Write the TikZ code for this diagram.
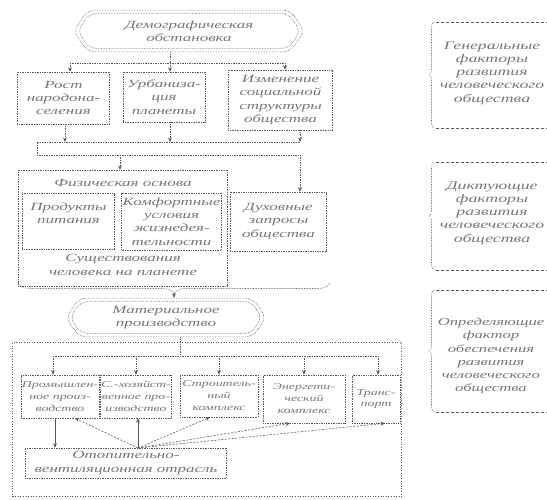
\documentclass[tikz,border=0pt]{standalone}
\usepackage{fontspec}
\newfontfamily\lab{Liberation Serif}[FakeStretch=1.55]
\usetikzlibrary{arrows.meta,shapes.symbols,decorations.pathreplacing,calc}
\definecolor{txtgray}{RGB}{118,118,118}
\definecolor{lngray}{RGB}{90,90,90}
\tikzset{
  txt/.style={text=txtgray,align=center,font=\lab\itshape\fontsize{11}{13.5}\selectfont},
  small/.style={text=txtgray,align=center,font=\lab\itshape\fontsize{9}{12}\selectfont},
  side/.style={text=txtgray,align=center,font=\lab\itshape\fontsize{11.5}{13.3}\selectfont},
  ln/.style={draw=lngray,line width=0.7pt,densely dotted},
  arr/.style={ln,-{Stealth[length=4.5pt,width=4pt]}},
  darr/.style={draw=lngray,line width=0.6pt,dash pattern=on 2pt off 1.5pt,-{Stealth[length=4.5pt,width=4pt]}},
  box/.style={ln,txt,inner sep=1pt},
  sbox/.style={ln,small,inner sep=1pt},
  hexa/.style={signal,signal to=east and west,signal pointer angle=110,rounded corners=7pt,
    draw=lngray,line width=0.6pt,densely dotted,inner sep=0pt},
  bra/.style={draw=lngray,line width=0.6pt,densely dotted,decorate,decoration={brace,amplitude=#1}},
  sidebar/.style={draw=lngray,line width=0.6pt,dash pattern=on 3pt off 2pt}
}
\begin{document}
\begin{tikzpicture}[x=1bp,y=-1bp]
\useasboundingbox (0,0) rectangle (547,500);

% --- demographic situation ---
\node[hexa,minimum width=232,minimum height=42] (demo) at (189,31) {};
\node[hexa,minimum width=224,minimum height=35,txt] (demoin) at (demo.center) {Демографическая\\обстановка};

\node[box,minimum width=93,minimum height=52] (rost) at (63.5,98) {Рост\\народона-\\селения};
\node[box,minimum width=82,minimum height=50] (urb) at (164,97) {Урбаниза-\\ция\\планеты};
\node[box,minimum width=105,minimum height=60] (izm) at (280.5,100) {Изменение\\социальной\\структуры\\общества};

\coordinate (bus1L) at (70,63);
\coordinate (bus1M) at (170,63);
\coordinate (bus1R) at (285,63);
\draw[ln] (demo.south -| bus1M) -- (bus1M);
\draw[ln] (bus1L) -- (bus1R);
\draw[arr] (bus1L) -- (bus1L |- rost.north);
\draw[arr] (bus1M) -- (bus1M |- urb.north);
\draw[arr] (bus1R) -- (bus1R |- izm.north);

% --- collecting bus ---
\coordinate (bus2a) at (65,142);
\coordinate (bus2b) at (170,142);
\coordinate (bus2L) at (37,142);
\coordinate (bus2R) at (300,142);
\coordinate (bus3L) at (37,155);
\coordinate (bus3M) at (120,155);
\coordinate (bus3R) at (300,155);
\draw[arr] (rost.south -| bus2a) -- (bus2a);
\draw[arr] (urb.south -| bus2b) -- (bus2b);
\draw[arr] (izm.south -| bus2R) -- (bus2R);
\draw[ln] (bus2R) -- (bus2L) -- (bus3L) -- (bus3R);

% --- physical basis ---
\node[ln,minimum width=210,minimum height=117,inner sep=0pt] (fiz) at (123,228.5) {};
\node[txt] (fizT) at (123,183) {Физическая основа};
\node[txt] (fizB) at (123,265) {Существования\\человека на планете};
\node[box,minimum width=93,minimum height=56,text depth=16pt] (prod) at (68.5,221) {Продукты\\питания};
\node[box,minimum width=97,minimum height=57] (comf) at (171.5,221.5) {Комфортные\\условия\\жизнедея-\\тельности};
\node[box,minimum width=97,minimum height=59] (duh) at (278.5,221.5) {Духовные\\запросы\\общества};
\draw[arr] (bus3M) -- (bus3M |- fiz.north);
\draw[arr] (bus3R) -- (bus3R |- duh.north);

% --- brace over the basis and the needs ---
\draw[bra=11pt] (330,283) -- (18,283);
\coordinate (tip) at (174,293);

% --- material production ---
\node[hexa,minimum width=201,minimum height=39] (mat) at (166,317.5) {};
\node[hexa,minimum width=193,minimum height=32,txt] (matin) at (mat.center) {Материальное\\производство};
\draw[arr] (tip) -- (tip |- mat.north);

% --- production branches ---
\node[draw=lngray,line width=0.6pt,dotted,minimum width=390,minimum height=155,inner sep=0pt] (zone) at (207,419.5) {};
\node[sbox,minimum width=76,minimum height=43] (prom) at (60,396.5) {Промышлен-\\ное произ-\\водство};
\node[sbox,minimum width=68,minimum height=43] (agri) at (136,396.5) {С.-хозяйст-\\венное про-\\изводство};
\node[sbox,minimum width=78,minimum height=42] (build) at (219,396) {Строитель-\\ный\\комплекс};
\node[sbox,minimum width=82,minimum height=48] (energ) at (304,399) {Энергети-\\ческий\\комплекс};
\node[sbox,minimum width=48,minimum height=48] (trans) at (376,399) {Транс-\\порт};
\node[box,minimum width=202,minimum height=30] (otop) at (126,463) {Отопительно-\\вентиляционная отрасль};

\coordinate (bus4M) at (180,356);
\coordinate (bus4L) at (53,356);
\coordinate (bus4R) at (378,356);
\draw[ln] (mat.south -| bus4M) -- (bus4M);
\draw[ln] (bus4L) -- (bus4R);
\draw[arr] (bus4L) -- (bus4L |- prom.north);
\draw[arr] (bus4M -| agri) -- (agri.north);
\draw[arr] (bus4M -| build) -- (build.north);
\draw[arr] (bus4M -| energ) -- (energ.north);
\draw[arr] (bus4R) -- (bus4R |- trans.north);

\coordinate (hub) at (138,448);
\draw[arr,solid] ($(prom.south)+(-5,0)$) -- ($(otop.north)+(-71,0)$);
\draw[arr,solid] (hub) -- (hub |- agri.south);
\draw[darr] (hub) -- ($(prom.south)+(15,0)$);
\draw[darr] (hub) -- ($(build.south)+(-9,0)$);
\draw[darr] (hub) -- ($(energ.south)+(-14,0)$);
\draw[darr] (hub) -- ($(trans.south)+(9,0)$);

% --- factor captions ---
\node[side] (gen) at (492,73) {Генеральные\\факторы\\развития\\человеческого\\общества};
\node[side] (dikt) at (492,213) {Диктующие\\факторы\\развития\\человеческого\\общества};
\node[side,font=\lab\itshape\fontsize{10.8}{13.3}\selectfont] (opr) at (491,356) {Определяющие\\фактор\\обеспечения\\развития\\человеческого\\общества};

\draw[bra=5pt] (434,128) -- (434,22);
\draw[sidebar] (436,22) -- (547,22);
\draw[sidebar] (436,128) -- (547,128);
\draw[bra=5pt] (434,270) -- (434,162);
\draw[sidebar] (436,162) -- (547,162);
\draw[sidebar] (436,270) -- (547,270);
\draw[bra=5pt] (434,412) -- (434,290);
\draw[sidebar] (436,290) -- (547,290);
\draw[sidebar] (436,412) -- (547,412);
\end{tikzpicture}
\end{document}
